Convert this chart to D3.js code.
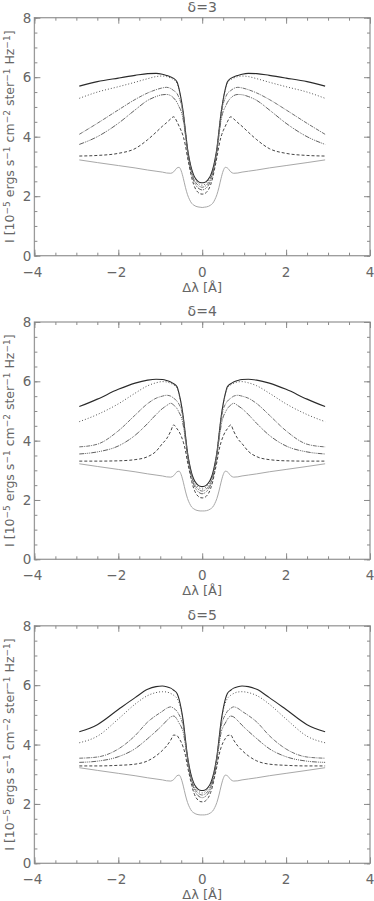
<!DOCTYPE html>
<html><head><meta charset="utf-8">
<script src="https://cdn.jsdelivr.net/npm/d3@7"></script>
<style>
html,body{margin:0;padding:0;background:#fff;}
svg{display:block;}
text{font-family:"DejaVu Sans","Liberation Sans",sans-serif;fill:#666;}
</style></head>
<body><svg id="c" width="374" height="901"></svg>
<script>
// Δλ sample points (Å)
const dLambda = [-2.93,-2.5,-2.0,-1.6,-1.3,-1.1,-0.95,-0.85,-0.75,-0.68,-0.6,-0.55,-0.5,-0.45,-0.4,-0.35,-0.3,-0.25,-0.2,-0.15,-0.1,-0.05,0,
                 0.05,0.1,0.15,0.2,0.25,0.3,0.35,0.4,0.45,0.5,0.55,0.6,0.68,0.75,0.85,0.95,1.1,1.3,1.6,2.0,2.5,2.93];

const panelTitles = ["δ=3","δ=4","δ=5"];
const xTicks = [-4,-2,0,2,4];
const yTicks = [0,2,4,6,8];

// δ=3
const d3_c1 = [5.70,5.85,5.97,6.06,6.12,6.13,6.10,6.06,6.01,5.96,5.84,5.60,5.25,4.80,4.20,3.60,3.20,2.90,2.70,2.58,2.50,2.46,2.45,2.46,2.50,2.58,2.70,2.90,3.20,3.60,4.20,4.80,5.25,5.60,5.84,5.96,6.01,6.06,6.10,6.13,6.12,6.06,5.97,5.85,5.70];
const d3_c2 = [5.29,5.50,5.68,5.83,5.95,6.02,6.04,6.02,5.97,5.92,5.80,5.57,5.22,4.77,4.17,3.57,3.16,2.86,2.64,2.52,2.44,2.39,2.37,2.39,2.44,2.52,2.64,2.86,3.16,3.57,4.17,4.77,5.22,5.57,5.80,5.92,5.97,6.02,6.04,6.02,5.95,5.83,5.68,5.50,5.29];
const d3_c3 = [4.08,4.45,4.90,5.25,5.47,5.58,5.64,5.66,5.62,5.55,5.45,5.30,5.10,4.70,4.12,3.53,3.10,2.80,2.58,2.45,2.37,2.32,2.30,2.32,2.37,2.45,2.58,2.80,3.10,3.53,4.12,4.70,5.10,5.30,5.45,5.55,5.62,5.66,5.64,5.58,5.47,5.25,4.90,4.45,4.08];
const d3_c4 = [3.74,4.00,4.45,4.90,5.22,5.35,5.41,5.42,5.38,5.30,5.15,5.00,4.85,4.55,4.05,3.48,3.05,2.74,2.51,2.37,2.28,2.23,2.21,2.23,2.28,2.37,2.51,2.74,3.05,3.48,4.05,4.55,4.85,5.00,5.15,5.30,5.38,5.42,5.41,5.35,5.22,4.90,4.45,4.00,3.74];
const d3_c5 = [3.35,3.37,3.44,3.60,3.90,4.15,4.35,4.47,4.60,4.67,4.50,4.35,4.20,4.00,3.70,3.30,2.95,2.62,2.38,2.22,2.13,2.08,2.07,2.08,2.13,2.22,2.38,2.62,2.95,3.30,3.70,4.00,4.20,4.35,4.50,4.67,4.60,4.47,4.35,4.15,3.90,3.60,3.44,3.37,3.35];
const d3_c6 = [3.22,3.13,3.03,2.95,2.88,2.84,2.81,2.78,2.77,2.82,2.95,2.97,2.85,2.60,2.30,2.05,1.88,1.76,1.70,1.66,1.64,1.63,1.62,1.63,1.64,1.66,1.70,1.76,1.88,2.05,2.30,2.60,2.85,2.97,2.95,2.82,2.77,2.78,2.81,2.84,2.88,2.95,3.03,3.13,3.22];

// δ=4
const d4_c1 = [5.15,5.40,5.73,5.94,6.04,6.07,6.06,6.03,5.98,5.92,5.82,5.58,5.24,4.79,4.19,3.60,3.20,2.90,2.70,2.58,2.50,2.46,2.45,2.46,2.50,2.58,2.70,2.90,3.20,3.60,4.19,4.79,5.24,5.58,5.82,5.92,5.98,6.03,6.06,6.07,6.04,5.94,5.73,5.40,5.15];
const d4_c2 = [4.64,4.88,5.24,5.60,5.85,5.95,5.99,5.98,5.93,5.88,5.77,5.55,5.21,4.76,4.16,3.57,3.16,2.86,2.64,2.52,2.44,2.39,2.37,2.39,2.44,2.52,2.64,2.86,3.16,3.57,4.16,4.76,5.21,5.55,5.77,5.88,5.93,5.98,5.99,5.95,5.85,5.60,5.24,4.88,4.64];
const d4_c3 = [3.79,3.88,4.33,4.86,5.25,5.43,5.50,5.53,5.50,5.43,5.33,5.22,5.05,4.68,4.11,3.53,3.10,2.80,2.58,2.45,2.37,2.32,2.30,2.32,2.37,2.45,2.58,2.80,3.10,3.53,4.11,4.68,5.05,5.22,5.33,5.43,5.50,5.53,5.50,5.43,5.25,4.86,4.33,3.88,3.79];
const d4_c4 = [3.55,3.62,3.82,4.18,4.58,4.88,5.08,5.18,5.26,5.20,5.08,4.95,4.80,4.50,4.02,3.47,3.05,2.74,2.51,2.37,2.28,2.23,2.21,2.23,2.28,2.37,2.51,2.74,3.05,3.47,4.02,4.50,4.80,4.95,5.08,5.20,5.26,5.18,5.08,4.88,4.58,4.18,3.82,3.62,3.55];
const d4_c5 = [3.31,3.31,3.32,3.36,3.46,3.64,3.90,4.06,4.32,4.53,4.40,4.30,4.15,3.95,3.67,3.28,2.94,2.62,2.38,2.22,2.13,2.08,2.07,2.08,2.13,2.22,2.38,2.62,2.94,3.28,3.67,3.95,4.15,4.30,4.40,4.53,4.32,4.06,3.90,3.64,3.46,3.36,3.32,3.31,3.31];
const d4_c6 = [3.22,3.13,3.03,2.95,2.88,2.84,2.81,2.78,2.77,2.82,2.95,2.97,2.85,2.60,2.30,2.05,1.88,1.76,1.70,1.66,1.64,1.63,1.63,1.63,1.64,1.66,1.70,1.76,1.88,2.05,2.30,2.60,2.85,2.97,2.95,2.82,2.77,2.78,2.81,2.84,2.88,2.95,3.03,3.13,3.22];

// δ=5
const d5_c1 = [4.43,4.67,5.18,5.58,5.86,5.95,5.97,5.95,5.90,5.83,5.72,5.52,5.20,4.77,4.18,3.60,3.20,2.90,2.70,2.58,2.50,2.46,2.45,2.46,2.50,2.58,2.70,2.90,3.20,3.60,4.18,4.77,5.20,5.52,5.72,5.83,5.90,5.95,5.97,5.95,5.86,5.58,5.18,4.67,4.43];
const d5_c2 = [4.06,4.28,4.86,5.36,5.65,5.75,5.78,5.77,5.72,5.66,5.55,5.40,5.13,4.72,4.14,3.57,3.16,2.86,2.64,2.52,2.44,2.39,2.37,2.39,2.44,2.52,2.64,2.86,3.16,3.57,4.14,4.72,5.13,5.40,5.55,5.66,5.72,5.77,5.78,5.75,5.65,5.36,4.86,4.28,4.06];
const d5_c3 = [3.54,3.58,3.85,4.30,4.76,4.98,5.12,5.22,5.27,5.22,5.12,5.00,4.85,4.60,4.08,3.53,3.10,2.80,2.58,2.45,2.37,2.32,2.30,2.32,2.37,2.45,2.58,2.80,3.10,3.53,4.08,4.60,4.85,5.00,5.12,5.22,5.27,5.22,5.12,4.98,4.76,4.30,3.85,3.58,3.54];
const d5_c4 = [3.40,3.44,3.59,3.86,4.20,4.45,4.65,4.80,4.93,4.96,4.85,4.72,4.60,4.40,3.98,3.47,3.05,2.74,2.51,2.37,2.28,2.23,2.21,2.23,2.28,2.37,2.51,2.74,3.05,3.47,3.98,4.40,4.60,4.72,4.85,4.96,4.93,4.80,4.65,4.45,4.20,3.86,3.59,3.44,3.40];
const d5_c5 = [3.28,3.28,3.30,3.34,3.45,3.62,3.80,3.95,4.15,4.32,4.30,4.20,4.08,3.90,3.64,3.26,2.94,2.62,2.38,2.22,2.13,2.08,2.07,2.08,2.13,2.22,2.38,2.62,2.94,3.26,3.64,3.90,4.08,4.20,4.30,4.32,4.15,3.95,3.80,3.62,3.45,3.34,3.30,3.28,3.28];
const d5_c6 = [3.22,3.13,3.03,2.95,2.88,2.84,2.81,2.78,2.77,2.82,2.95,2.97,2.85,2.60,2.30,2.05,1.88,1.76,1.70,1.66,1.64,1.63,1.63,1.63,1.64,1.66,1.70,1.76,1.88,2.05,2.30,2.60,2.85,2.97,2.95,2.82,2.77,2.78,2.81,2.84,2.88,2.95,3.03,3.13,3.22];

const panels = [
  [d3_c1,d3_c2,d3_c3,d3_c4,d3_c5,d3_c6],
  [d4_c1,d4_c2,d4_c3,d4_c4,d4_c5,d4_c6],
  [d5_c1,d5_c2,d5_c3,d5_c4,d5_c5,d5_c6]
];

const styles = [
  {stroke:"#2a2a2a", dash:null, w:1.1},
  {stroke:"#555", dash:"1,2", w:1},
  {stroke:"#707070", dash:"4,1,1,1", w:1},
  {stroke:"#606060", dash:"5,1,1,1,1,1,1,1", w:1},
  {stroke:"#444", dash:"3,2", w:1},
  {stroke:"#a8a8a8", dash:null, w:1}
];

const svg = d3.select("#c");
const left = 34.4, right = 370;
const tops = [17.7, 322, 625.8];
const bottoms = [255.7, 559.3, 863.3];
const x = d3.scaleLinear().domain([-4,4]).range([left,right]);

panels.forEach((series, pi) => {
  const y = d3.scaleLinear().domain([0,8]).range([bottoms[pi], tops[pi]]);
  const g = svg.append("g");

  const line = d3.line().x((d,i)=>x(dLambda[i])).y(d=>y(d)).curve(d3.curveMonotoneX);
  series.forEach((s, si) => {
    const st = styles[si];
    g.append("path").attr("d", line(s)).attr("fill","none")
      .attr("stroke", st.stroke).attr("stroke-width", st.w)
      .attr("stroke-dasharray", st.dash);
  });

  g.append("rect").attr("x",left).attr("y",tops[pi]).attr("width",right-left).attr("height",bottoms[pi]-tops[pi])
    .attr("fill","none").attr("stroke","#9a9a9a").attr("stroke-width",1.3);

  const axB = d3.axisBottom(x).tickValues(d3.range(-4,4.01,0.5)).tickSize(-3).tickFormat("");
  const axBM = d3.axisBottom(x).tickValues(xTicks).tickSize(-6).tickFormat("");
  const axT = d3.axisTop(x).tickValues(d3.range(-4,4.01,0.5)).tickSize(-3).tickFormat("");
  const axTM = d3.axisTop(x).tickValues(xTicks).tickSize(-6).tickFormat("");
  const axL = d3.axisLeft(y).tickValues(d3.range(0,8.01,0.5)).tickSize(-3).tickFormat("");
  const axLM = d3.axisLeft(y).tickValues(yTicks).tickSize(-6).tickFormat("");
  const axR = d3.axisRight(y).tickValues(d3.range(0,8.01,0.5)).tickSize(-3).tickFormat("");
  const axRM = d3.axisRight(y).tickValues(yTicks).tickSize(-6).tickFormat("");
  [[axB,`translate(0,${bottoms[pi]})`],[axBM,`translate(0,${bottoms[pi]})`],
   [axT,`translate(0,${tops[pi]})`],[axTM,`translate(0,${tops[pi]})`],
   [axL,`translate(${left},0)`],[axLM,`translate(${left},0)`],
   [axR,`translate(${right},0)`],[axRM,`translate(${right},0)`]].forEach(([a,t])=>{
    const ag = g.append("g").attr("transform",t).call(a);
    ag.select(".domain").remove();
    ag.selectAll("line").attr("stroke","#8a8a8a").attr("stroke-width",1);
  });

  xTicks.forEach(v => {
    g.append("text").attr("x", x(v) + (v<0?-2:0)).attr("y", bottoms[pi]+21)
      .attr("text-anchor","middle").attr("font-size",13.5)
      .text(v<0 ? "\u2212"+Math.abs(v) : String(v));
  });
  yTicks.forEach(v => {
    g.append("text").attr("x", left-3).attr("y", y(v)+5)
      .attr("text-anchor","end").attr("font-size",13.5).text(v);
  });

  g.append("text").attr("x", x(0)).attr("y", bottoms[pi]+36)
    .attr("text-anchor","middle").attr("font-size",13).text("\u0394\u03bb [\u00c5]");

  g.append("text").attr("x", x(0)).attr("y", tops[pi]-6)
    .attr("text-anchor","middle").attr("font-size",14).text(panelTitles[pi]);

  const cy = (tops[pi]+bottoms[pi])/2;
  const yt = g.append("text").attr("transform",`translate(14,${cy}) rotate(-90)`)
    .attr("text-anchor","middle").attr("font-size",12.5);
  const parts = [["I [10",""],["\u22125","sup"],[" ergs s",""],["\u22121","sup"],[" cm",""],["\u22122","sup"],[" ster",""],["\u22121","sup"],[" Hz",""],["\u22121","sup"],["]",""]];
  parts.forEach(([t,k])=>{
    const ts = yt.append("tspan").text(t);
    if(k==="sup") ts.attr("font-size",9).attr("dy",-4.5);
    else ts.attr("dy", 4.5).attr("font-size",12.5);
  });
  yt.select("tspan").attr("dy",0);
});
</script></body></html>
